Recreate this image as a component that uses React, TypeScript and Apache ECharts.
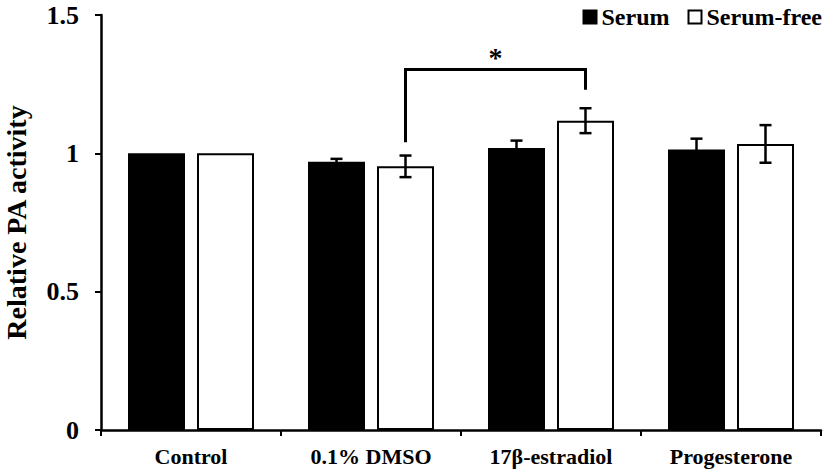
import React, { useEffect, useRef } from "react";
import * as echarts from "echarts";

const categories = ["Control", "0.1% DMSO", "17β-estradiol", "Progesterone"];
const serum = [1.0, 0.97, 1.019, 1.014];
const serumErr = [0, 0.01, 0.027, 0.039];
const serumFree = [1.0, 0.953, 1.118, 1.034];
const serumFreeErr = [0, 0.039, 0.045, 0.068];
const yTicks = [0, 0.5, 1, 1.5];
// significance bracket: [fromCategory, toCategory, leftLegBottom, rightLegBottom, top, starY]
const bracket = [1, 2, 1.04, 1.23, 1.303, 1.345];

const FONT = "'Liberation Serif', 'Times New Roman', serif";
const BAR_W = 57;
const BAR_GAP_PX = 12;
const OFFSET = (BAR_W + BAR_GAP_PX) / 2;

export default function App() {
  const ref = useRef<HTMLDivElement>(null);
  useEffect(() => {
    if (!ref.current) return;
    const chart = echarts.init(ref.current, undefined, { renderer: "svg" });
    const errData: number[][] = [];
    serum.forEach((v, i) => errData.push([i, v, serumErr[i], -1]));
    serumFree.forEach((v, i) => errData.push([i, v, serumFreeErr[i], 1]));

    chart.setOption({
      animation: false,
      grid: {
        left: 101,
        right: 6,
        top: 15,
        bottom: 40,
        containLabel: false,
        outerBoundsMode: "none",
      },
      legend: {
        right: 0,
        top: 0,
        itemWidth: 13,
        itemHeight: 13,
        itemGap: 18,
        textStyle: { fontFamily: FONT, fontWeight: "bold", fontSize: 24, color: "#000" },
        data: [
          { name: "Serum", icon: "rect" },
          { name: "Serum-free", icon: "rect" },
        ],
      },
      xAxis: {
        type: "category",
        data: categories,
        axisLine: { lineStyle: { color: "#000", width: 2.5 } },
        axisTick: { show: true, length: 6, lineStyle: { color: "#000", width: 2 } },
        axisLabel: { fontFamily: FONT, fontWeight: "bold", fontSize: 22, color: "#000", margin: 15 },
      },
      yAxis: {
        type: "value",
        min: 0,
        max: 1.5,
        interval: 0.5,
        name: "Relative PA activity",
        nameLocation: "middle",
        nameGap: 71,
        nameTextStyle: { fontFamily: FONT, fontWeight: "bold", fontSize: 28, color: "#000" },
        axisLine: { show: true, lineStyle: { color: "#000", width: 2.5 } },
        axisTick: { show: true, length: 6, lineStyle: { color: "#000", width: 2 } },
        splitLine: { show: false },
        axisLabel: {
          fontFamily: FONT,
          fontWeight: "bold",
          fontSize: 26,
          color: "#000",
          margin: 22,
          formatter: (v: number) => (yTicks.includes(v) ? String(v) : ""),
        },
      },
      series: [
        {
          name: "Serum",
          type: "bar",
          data: serum,
          barWidth: BAR_W,
          barGap: `${(BAR_GAP_PX / BAR_W) * 100}%`,
          itemStyle: { color: "#000", borderColor: "#000", borderWidth: 2 },
        },
        {
          name: "Serum-free",
          type: "bar",
          data: serumFree,
          barWidth: BAR_W,
          itemStyle: { color: "#fff", borderColor: "#000", borderWidth: 2 },
        },
        {
          type: "custom",
          z: 10,
          silent: true,
          data: errData,
          renderItem: (params: any, api: any) => {
            const cat = api.value(0);
            const val = api.value(1);
            const err = api.value(2);
            const side = api.value(3);
            if (!err) return { type: "group", children: [] };
            const hi = api.coord([cat, val + err]);
            const lo = api.coord([cat, val - err]);
            const x = hi[0] + side * OFFSET;
            const style = { stroke: "#000", lineWidth: 2.5, fill: "none" };
            return {
              type: "group",
              children: [
                { type: "line", shape: { x1: x, y1: hi[1], x2: x, y2: lo[1] }, style },
                { type: "line", shape: { x1: x - 6, y1: hi[1], x2: x + 6, y2: hi[1] }, style },
                { type: "line", shape: { x1: x - 6, y1: lo[1], x2: x + 6, y2: lo[1] }, style },
              ],
            };
          },
        },
        {
          type: "custom",
          z: 10,
          silent: true,
          data: [bracket],
          renderItem: (params: any, api: any) => {
            const a = api.value(0);
            const b = api.value(1);
            const l = api.coord([a, api.value(2)]);
            const r = api.coord([b, api.value(3)]);
            const top = api.coord([a, api.value(4)])[1];
            const star = api.coord([a, api.value(5)])[1];
            const x1 = l[0] + OFFSET;
            const x2 = r[0] + OFFSET;
            return {
              type: "group",
              children: [
                {
                  type: "polyline",
                  shape: { points: [[x1, l[1]], [x1, top], [x2, top], [x2, r[1]]] },
                  style: { stroke: "#000", lineWidth: 3, fill: "none" },
                },
                {
                  type: "text",
                  style: {
                    text: "*",
                    x: (x1 + x2) / 2,
                    y: star,
                    align: "center",
                    verticalAlign: "middle",
                    font: `bold 28px ${FONT}`,
                    fill: "#000",
                  },
                },
              ],
            };
          },
        },
      ],
    });
    return () => chart.dispose();
  }, []);
  return (
    <div
      ref={ref}
      style={{ position: "fixed", left: 0, top: 0, width: 827, height: 470, background: "#fff" }}
    />
  );
}
